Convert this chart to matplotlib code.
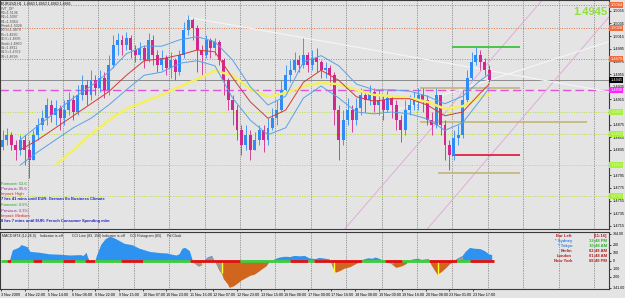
import numpy as np
import matplotlib
matplotlib.use('Agg')
import matplotlib.pyplot as plt

plt.rcParams['font.family'] = ['Liberation Sans', 'DejaVu Sans']

first_open = 1.4840
closes = [1.4851, 1.4859, 1.4843, 1.4835, 1.4851, 1.4835, 1.4819, 1.4859, 1.4874, 1.4885,
          1.4906, 1.4890, 1.4901, 1.4885, 1.4898, 1.4914, 1.4895, 1.4922, 1.4938, 1.4922,
          1.4945, 1.4933, 1.4949, 1.4930, 1.4969, 1.5001, 1.5009, 1.5001, 1.5012, 1.4993,
          1.4985, 1.4996, 1.4977, 1.5009, 1.4985, 1.4969, 1.4980, 1.4965, 1.4977, 1.4958,
          1.4985, 1.5025, 1.5040, 1.5028, 1.4993, 1.4985, 1.5009, 1.4996, 1.5006, 1.4977,
          1.4945, 1.4914, 1.4898, 1.4866, 1.4843, 1.4859, 1.4835, 1.4851, 1.4866, 1.4851,
          1.4870, 1.4885, 1.4898, 1.4930, 1.4953, 1.4961, 1.4977, 1.4969, 1.4985, 1.4969,
          1.4980, 1.4974, 1.4961, 1.4965, 1.4953, 1.4898, 1.4851, 1.4882, 1.4898, 1.4882,
          1.4901, 1.4922, 1.4914, 1.4927, 1.4906, 1.4914, 1.4898, 1.4917, 1.4906, 1.4882,
          1.4866, 1.4898, 1.4906, 1.4914, 1.4922, 1.4914, 1.4882, 1.4874, 1.4922, 1.4874,
          1.4843, 1.4827, 1.4854, 1.4859, 1.4914, 1.4949, 1.4974, 1.4985, 1.4974, 1.4961,
          1.4945]
highs = [1.4866, 1.4870, 1.4863, 1.4851, 1.4859, 1.4859, 1.4851, 1.4866, 1.4885, 1.4898,
         1.4917, 1.4914, 1.4914, 1.4906, 1.4914, 1.4927, 1.4922, 1.4938, 1.4953, 1.4945,
         1.4961, 1.4953, 1.4961, 1.4958, 1.4985, 1.5017, 1.5020, 1.5017, 1.5021, 1.5017,
         1.5001, 1.5006, 1.5001, 1.5020, 1.5017, 1.4993, 1.4993, 1.4985, 1.4990, 1.4980,
         1.4993, 1.5037, 1.5048, 1.5044, 1.5032, 1.5001, 1.5017, 1.5012, 1.5012, 1.5009,
         1.4980, 1.4949, 1.4922, 1.4906, 1.4874, 1.4874, 1.4866, 1.4863, 1.4874, 1.4874,
         1.4885, 1.4901, 1.4914, 1.4945, 1.4969, 1.4977, 1.4990, 1.4985, 1.5012, 1.4990,
         1.4993, 1.4996, 1.4977, 1.4974, 1.4969, 1.4958, 1.4906, 1.4898, 1.4917, 1.4906,
         1.4917, 1.4933, 1.4930, 1.4938, 1.4933, 1.4930, 1.4922, 1.4930, 1.4922, 1.4914,
         1.4890, 1.4914, 1.4922, 1.4927, 1.4933, 1.4933, 1.4922, 1.4895, 1.4933, 1.4922,
         1.4882, 1.4851, 1.4866, 1.4874, 1.4930, 1.4961, 1.4990, 1.4998, 1.4993, 1.4980,
         1.4969]
lows = [1.4835, 1.4843, 1.4835, 1.4819, 1.4827, 1.4811, 1.4791, 1.4819, 1.4851, 1.4866,
        1.4874, 1.4879, 1.4874, 1.4866, 1.4874, 1.4890, 1.4882, 1.4890, 1.4914, 1.4906,
        1.4914, 1.4922, 1.4927, 1.4917, 1.4922, 1.4965, 1.4985, 1.4985, 1.4993, 1.4980,
        1.4974, 1.4977, 1.4965, 1.4974, 1.4969, 1.4958, 1.4961, 1.4953, 1.4949, 1.4945,
        1.4953, 1.4980, 1.5017, 1.5009, 1.4958, 1.4953, 1.4980, 1.4980, 1.4985, 1.4969,
        1.4922, 1.4898, 1.4874, 1.4851, 1.4827, 1.4835, 1.4819, 1.4835, 1.4843, 1.4832,
        1.4843, 1.4866, 1.4874, 1.4895, 1.4927, 1.4942, 1.4958, 1.4958, 1.4965, 1.4958,
        1.4961, 1.4958, 1.4949, 1.4949, 1.4938, 1.4874, 1.4819, 1.4843, 1.4874, 1.4863,
        1.4874, 1.4890, 1.4895, 1.4906, 1.4895, 1.4890, 1.4882, 1.4895, 1.4885, 1.4866,
        1.4848, 1.4859, 1.4890, 1.4898, 1.4898, 1.4895, 1.4874, 1.4859, 1.4870, 1.4859,
        1.4819, 1.4803, 1.4819, 1.4843, 1.4854, 1.4911, 1.4945, 1.4969, 1.4961, 1.4953,
        1.4942]

# moving averages / bands (hour index, price)
band_hours = [13, 25, 37, 49, 61, 73, 85, 97, 109, 121, 133, 145, 157, 169, 181, 193, 205,
              217, 229, 241, 253, 265, 277, 289, 301, 313, 325, 331]
ma_red = [1.4835, 1.4851, 1.4870, 1.4889, 1.4908, 1.4927, 1.4953, 1.4976, 1.4979, 1.4985,
          1.4993, 1.4990, 1.4949, 1.4911, 1.4885, 1.4898, 1.4942, 1.4961, 1.4945, 1.4919,
          1.4912, 1.4916, 1.4916, 1.4906, 1.4889, 1.4895, 1.4925, 1.4939]
band_up = [1.4851, 1.4873, 1.4895, 1.4917, 1.4936, 1.4958, 1.4987, 1.4999, 1.4999, 1.5009,
           1.5014, 1.5006, 1.4977, 1.4935, 1.4906, 1.4920, 1.4974, 1.4984, 1.4968, 1.4939,
           1.4930, 1.4930, 1.4928, 1.4920, 1.4908, 1.4920, 1.4945, 1.4955]
band_dn = [1.4811, 1.4832, 1.4851, 1.4870, 1.4885, 1.4906, 1.4930, 1.4953, 1.4958, 1.4972,
           1.4976, 1.4968, 1.4917, 1.4882, 1.4859, 1.4870, 1.4917, 1.4936, 1.4917, 1.4895,
           1.4892, 1.4895, 1.4892, 1.4884, 1.4866, 1.4878, 1.4914, 1.4933]
slow_hours = [37, 49, 61, 73, 85, 97, 109, 121, 133, 145, 157, 169, 181, 193, 205, 217, 229,
              241, 253, 265, 277, 289, 301, 313, 325, 331]
ma_slow = [1.4811, 1.4835, 1.4860, 1.4882, 1.4900, 1.4911, 1.4922, 1.4935, 1.4947, 1.4960,
           1.4953, 1.4931, 1.4919, 1.4925, 1.4936, 1.4941, 1.4939, 1.4930, 1.4922, 1.4920,
           1.4917, 1.4911, 1.4900, 1.4904, 1.4919, 1.4923]

# levels
res_levels = [1.5064, 1.5028, 1.4979]
sup_levels = [1.4895, 1.4860, 1.4811, 1.4762]
pivot = 1.4930
last_price = 1.4945
day_high, day_low, day_span = 1.4998, 1.4827, (306, 352)
tan_levels = [(1.4933, 284, 352), (1.4879, 284, 397), (1.4799, 296, 352)]
pink_lines = [((233, 1.4710), (367, 1.5072)), ((289, 1.4710), (418, 1.5061))]
white_lines = [((126, 1.5045), (412, 1.4927)), ((257, 1.4890), (412, 1.5006))]

price_ticks = [1.5055, 1.5035, 1.5015, 1.4995, 1.4975, 1.4955, 1.4935, 1.4915, 1.4895,
               1.4875, 1.4855, 1.4835, 1.4815, 1.4795, 1.4775, 1.4755, 1.4735, 1.4715]
hidden_ticks = [1.4895, 1.4815]   # covered by the support tags
time_labels = ['3 Nov 2009', '4 Nov 22:00', '5 Nov 14:00', '6 Nov 06:00', '6 Nov 22:00',
               '9 Nov 15:00', '10 Nov 07:00', '10 Nov 23:00', '11 Nov 15:00', '12 Nov 07:00',
               '12 Nov 23:00', '13 Nov 15:00', '16 Nov 08:00', '17 Nov 00:00', '17 Nov 16:00',
               '18 Nov 08:00', '19 Nov 00:00', '19 Nov 16:00', '20 Nov 08:00', '23 Nov 01:00',
               '23 Nov 17:00']

pivot_text = ['EURUSD,H1  1.4940 1.4950 1.4940 1.4945', 'PVT_DP', 'R3=1.5136', 'R2=1.5097',
              'R1=1.5064', 'Rmid=1.5028', 'R0.5=1.4979', 'Pv=1.4930', 'S0.5=1.4895',
              'Smid=1.4860', 'S1=1.4811', 'S1.5=1.4762', 'S2=1.4699']
news = [('Forecast: 52.6', '#1f9a1f', 'normal'), ('Previous: 95.6', '#a0209a', 'normal'),
        ('Impact: High', '#e02020', 'normal'),
        ('7 hrs 41 mins until EUR: German Ifo Business Climate', '#1a22cc', 'bold'),
        ('Forecast: 0.5%', '#1f9a1f', 'normal'), ('Previous: 3.3%', '#a0209a', 'normal'),
        ('Impact: Medium', '#e02020', 'normal'),
        ('8 hrs 7 mins until EUR: French Consumer Spending m/m', '#1a22cc', 'bold')]

# histogram (hour index, value)
hist_hours = [6, 8, 12, 14, 18, 20, 26, 33, 40, 47, 54, 56, 58, 59, 60, 64, 65, 68, 71, 74,
              77, 81, 84, 89, 94, 101, 108, 113, 116, 119, 121, 123, 125, 128, 130, 131, 134,
              136, 138, 140, 143, 144, 146, 148, 150, 151, 154, 155, 158, 161, 163, 166, 169,
              172, 174, 177, 180, 182, 184, 186, 189, 193, 196, 199, 203, 206, 209, 213, 216,
              220, 223, 225, 227, 230, 233, 237, 240, 243, 245, 249, 252, 254, 257, 260, 264,
              266, 268, 272, 275, 277, 279, 283, 285, 290, 292, 294, 296, 299, 302, 304, 307,
              309, 311, 313, 315, 318, 321, 325, 328, 331, 333]
hist_vals = [0, 130, 160, 195, 170, 110, 100, 80, 75, 65, 70, 60, 100, 40, 0, 0, 60, 200, 270,
             300, 280, 240, 210, 195, 150, 110, 95, 90, 75, 65, 80, 150, 160, 120, 0, -30, -70,
             -50, 0, 40, 60, 20, -40, -120, -170, -230, -300, -340, -320, -280, -250, -220,
             -190, -175, -150, -110, -70, -20, 0, 20, 40, 50, 45, 60, 55, 60, 30, 20, 35, 25,
             15, -80, -150, -130, -100, -80, -50, -20, 10, 30, 25, 40, 20, -10, -30, -60, -90,
             -70, -40, 0, 15, 25, 10, 20, -60, -120, -175, -140, -90, -50, -10, 20, 40, 60,
             110, 160, 150, 145, 120, 80, 70]
gray_spans = [(130, 150), (223, 226), (260, 266), (306, 313)]
spike_hours = [136, 150, 226, 296]
spike_vals = [-40, -160, -140, -170]
zero_bounds = [0, 4, 7, 22, 28, 42, 50, 57, 64, 81, 96, 128, 162, 196, 208, 212, 245, 260,
               272, 290, 309, 318, 334]
zero_cols = ['g', 'r', 'g', 'r', 'g', 'r', 'g', 'r', 'g', 'r', 'g', 'r', 'g', 'r', 'g', 'r',
             'g', 'r', 'g', 'r', 'g', 'r']
ind_ticks = [334, 200, 100, 0, -100, -200, -341]
ind_labels = ['334.00', '200', '100', '0', '-100', '-200', '-341.00']

clock = [('Bar Left', '[11:16]', '#b02020', '#b02020'),
         ('* Sydney', '12:48 PM', '#3a80e0', '#30b030'),
         ('* Tokyo', '10:48 AM', '#3a80e0', '#30b030'),
         ('Berlin', '02:48 AM', '#b02020', '#b02020'),
         ('London', '01:48 AM', '#b02020', '#b02020'),
         ('New York', '08:48 PM', '#b02020', '#b02020')]

# ---------------------------------------------------------------
W, H = 625, 298
bg = '#e4e4e4'
edge = '#3a3a3a'
fig = plt.figure(figsize=(W / 100, H / 100), dpi=100)
fig.patch.set_facecolor(bg)


def box(x0, y0, x1, y1):
    return [x0 / W, 1 - y1 / H, (x1 - x0) / W, (y1 - y0) / H]


def px(x, y):
    return x / W, 1 - y / H


ax = fig.add_axes(box(0, 0, 609, 229))
ax2 = fig.add_axes(box(0, 232, 609, 289))
for a in (ax, ax2):
    a.set_facecolor(bg)
    a.set_xlim(-0.7, 412.2)
    for s in a.spines.values():
        s.set_color(edge)
        s.set_linewidth(0.8)
    for g in np.arange(18, 413, 24):
        a.axvline(g, color='#555555', lw=0.5, ls=(0, (1, 1.5)), zorder=1)

ax.set_ylim(1.4710, 1.5072)

# levels
for lv in res_levels:
    ax.axhline(lv, color='#e0784a', lw=0.7, ls=(0, (1, 1.5)), zorder=1.5)
for lv in sup_levels:
    ax.axhline(lv, color='#b8e040', lw=0.7, ls=(0, (1, 1.5)), zorder=1.5)
ax.axhline(last_price, color='#8c8c8c', lw=0.7, zorder=1.5)
ax.axhline(pivot, color='#dd55dd', lw=1.0, ls=(0, (6, 3)), zorder=1.5)
for (p0, p1) in pink_lines:
    ax.plot([p0[0], p1[0]], [p0[1], p1[1]], color='#e2a4d8', lw=0.6, zorder=1.6)
for (p0, p1) in white_lines:
    ax.plot([p0[0], p1[0]], [p0[1], p1[1]], color='#f6f6f6', lw=0.8, zorder=1.6)
for lv, h0, h1 in tan_levels:
    ax.hlines(lv, h0, h1, color='#c2b478', lw=1.2, zorder=1.7)
ax.hlines(day_high, *day_span, color='#30c030', lw=1.2, zorder=1.7)
ax.hlines(day_low, *day_span, color='#e0103a', lw=1.2, zorder=1.7)

# candles
c = np.array(closes)
o = np.r_[first_open, c[:-1]]
hi = np.maximum(np.array(highs), np.maximum(o, c))
lo = np.minimum(np.array(lows), np.minimum(o, c))
hrs = np.arange(len(c)) * 3 + 1
cols = np.where(c >= o, '#2f8cf5', '#d2288e')
ax.vlines(hrs, lo, hi, colors=cols, lw=0.6, zorder=3)
ax.bar(hrs, np.maximum(np.abs(c - o), 0.00008), bottom=np.minimum(o, c), width=2.0,
       color=cols, lw=0, zorder=3)

# averages
ax.plot(slow_hours, ma_slow, color='#f4f060', lw=1.8, zorder=4, solid_capstyle='round')
ax.plot(band_hours, band_up, color='#5aa0e6', lw=0.7, zorder=4)
ax.plot(band_hours, band_dn, color='#5aa0e6', lw=0.7, zorder=4)
ax.plot(band_hours, ma_red, color='#d43a3a', lw=0.7, zorder=4)

# right price scale
ax.yaxis.tick_right()
ax.set_yticks(price_ticks)
ax.set_yticklabels(['' if t in hidden_ticks else '%.4f' % t for t in price_ticks])
ax.tick_params(axis='y', labelsize=2.8, length=1.5, width=0.5, pad=1, colors='black')
ax.set_xticks([])
ytr = ax.get_yaxis_transform()


def tag(a, tr, val, txt, fc, tc='white'):
    a.text(1.002, val, txt, transform=tr, fontsize=2.8, color=tc, ha='left', va='center',
           clip_on=False, zorder=6,
           bbox=dict(boxstyle='square,pad=0.25', fc=fc, ec='none'))


for lv in res_levels:
    tag(ax, ytr, lv, '%.4f' % lv, '#f06a3a')
for lv in sup_levels:
    tag(ax, ytr, lv, '%.4f' % lv, '#a8f040', '#d8ff90')
tag(ax, ytr, pivot, '%.4f' % pivot, '#ff22ff')
tag(ax, ytr, last_price, '%.4f' % last_price, 'black')

fig.text(*px(607, 12), '%.4f' % last_price, ha='right', va='center', fontsize=8,
         fontweight='bold', color='#8fe03a')

for i, t in enumerate(pivot_text):
    fig.text(*px(1, 4 + 4.4 * i), t, fontsize=2.6, va='center', ha='left',
             color='black' if i == 0 else '#505050')

news_y = [184, 189.5, 194, 199.5, 205.5, 210.5, 215.5, 221]
for (t, col, w), yy in zip(news, news_y):
    fig.text(*px(1, yy), t, fontsize=2.9, color=col, fontweight=w, va='center', ha='left')

# ---- indicator panel ----
ax2.set_ylim(-354, 359)
hh = np.array(hist_hours, dtype=float)
vv = np.array(hist_vals, dtype=float)
ax2.fill_between(hh, 0, vv, where=vv >= 0, interpolate=True, color='#2e93f0', lw=0, zorder=2)
ax2.fill_between(hh, 0, vv, where=vv <= 0, interpolate=True, color='#d0661e', lw=0, zorder=2)
for a0, a1 in gray_spans:
    m = (hh >= a0) & (hh <= a1)
    ax2.fill_between(hh[m], 0, vv[m], color='#9a9a9a', lw=0, zorder=2.2)
ax2.vlines(spike_hours, 0, spike_vals, color='#ffff20', lw=1.0, zorder=2.5)
for i, zc in enumerate(zero_cols):
    ax2.hlines(0, zero_bounds[i], zero_bounds[i + 1],
               color='#3ccc3c' if zc == 'g' else '#e01010', lw=2.0, zorder=3)

ax2.yaxis.tick_right()
ax2.set_yticks(ind_ticks)
ax2.set_yticklabels(ind_labels)
ax2.tick_params(axis='y', labelsize=2.6, length=1.5, width=0.5, pad=1, colors='black')
ax2.set_xticks(np.arange(len(time_labels)) * 16)
ax2.set_xticklabels(time_labels)
ax2.tick_params(axis='x', labelsize=2.7, length=1.5, width=0.5, pad=1.5, colors='black')
for lb in ax2.get_xticklabels():
    lb.set_ha('left')

ind_titles = [(2, 'MACD MT4 (12,26,9)'), (40, 'Indicator is off'), (72, 'CCI Line (83, 150)'),
              (102, 'Indicator is off'), (130, 'CCI Histogram (83)'), (167, 'Pd Clock')]
for xx, t in ind_titles:
    fig.text(*px(xx, 236), t, fontsize=2.6, color='#202020', va='center', ha='left')

for i, (name, tm, c1, c2) in enumerate(clock):
    yy = 236 + 5 * i
    fig.text(*px(572, yy), name, fontsize=3, color=c1, ha='right', va='center',
             fontweight='bold')
    fig.text(*px(607, yy), tm, fontsize=3, color=c2, ha='right', va='center',
             fontweight='bold')

fig.savefig('out.png', dpi=100, facecolor=bg)
